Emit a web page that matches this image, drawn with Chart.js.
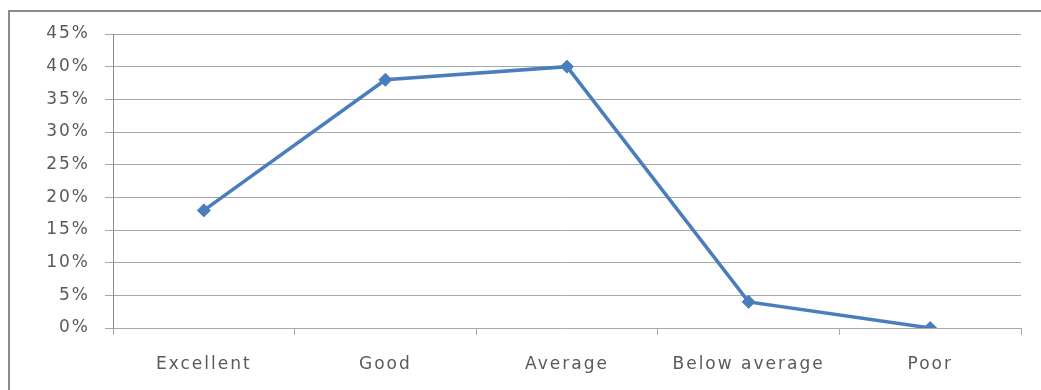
<!DOCTYPE html>
<html>
<head>
<meta charset="utf-8">
<script src="https://cdn.jsdelivr.net/npm/chart.js@4/dist/chart.umd.min.js"></script>
<style>
  html, body { margin: 0; padding: 0; background: #ffffff; }
  #wrap { position: relative; width: 1041px; height: 390px; }
</style>
</head>
<body>
<div id="wrap"><canvas id="chart" width="1041" height="390"></canvas></div>
<script>
// Survey rating categories and the share of responses for each
const categories = ['Excellent', 'Good', 'Average', 'Below average', 'Poor'];
const shares = [0.18, 0.38, 0.40, 0.04, 0.00];

// Value axis range
const yMin = 0;
const yMax = 0.45;
const yStep = 0.05;

const lineBlue = '#4a7ebb';
const gridGray = '#a8a8a8';
const axisGray = '#8a8a8a';
const labelGray = '#5a5a5a';

// Wider letter spacing for the axis text
const spacingPlugin = {
  id: 'spacing',
  beforeLayout(chart) { chart.ctx.letterSpacing = '2px'; },
  beforeDraw(chart) { chart.ctx.letterSpacing = '2px'; }
};

// Frame along the top and left edges of the chart
const framePlugin = {
  id: 'frame',
  beforeDraw(chart) {
    const ctx = chart.ctx;
    ctx.save();
    ctx.fillStyle = '#ffffff';
    ctx.fillRect(0, 0, chart.width, chart.height);
    ctx.strokeStyle = '#8c8c8c';
    ctx.lineWidth = 2;
    ctx.beginPath();
    ctx.moveTo(9, chart.height);
    ctx.lineTo(9, 11);
    ctx.lineTo(chart.width, 11);
    ctx.stroke();
    ctx.restore();
  }
};

new Chart(document.getElementById('chart'), {
  type: 'line',
  data: {
    labels: categories,
    datasets: [{
      data: shares,
      borderColor: lineBlue,
      backgroundColor: lineBlue,
      borderWidth: 3.5,
      tension: 0,
      pointStyle: 'rectRot',
      pointRadius: 6.5,
      pointHoverRadius: 6.5,
      pointBackgroundColor: lineBlue,
      pointBorderColor: lineBlue,
      pointBorderWidth: 1
    }]
  },
  options: {
    responsive: false,
    animation: false,
    events: [],
    layout: { padding: { left: 10, right: 20, top: 34, bottom: 0 } },
    plugins: {
      legend: { display: false },
      tooltip: { enabled: false }
    },
    scales: {
      x: {
        offset: true,
        grid: {
          offset: true,
          drawOnChartArea: false,
          drawTicks: true,
          tickLength: 7,
          color: gridGray,
          lineWidth: 1
        },
        border: { display: false },
        ticks: {
          color: labelGray,
          padding: 19,
          maxRotation: 0,
          autoSkip: false,
          font: { family: 'DejaVu Sans', size: 17 }
        },
        afterFit(scale) { scale.height = 62; }
      },
      y: {
        min: yMin,
        max: yMax,
        grid: {
          color: gridGray,
          lineWidth: 1,
          drawTicks: true,
          tickLength: 8
        },
        border: { display: true, color: axisGray, width: 1 },
        ticks: {
          stepSize: yStep,
          color: labelGray,
          padding: 15,
          font: { family: 'DejaVu Sans', size: 17 },
          callback: (v) => Math.round(v * 100) + '%'
        },
        afterFit(scale) { scale.width = 103; }
      }
    }
  },
  plugins: [spacingPlugin, framePlugin]
});
</script>
</body>
</html>
